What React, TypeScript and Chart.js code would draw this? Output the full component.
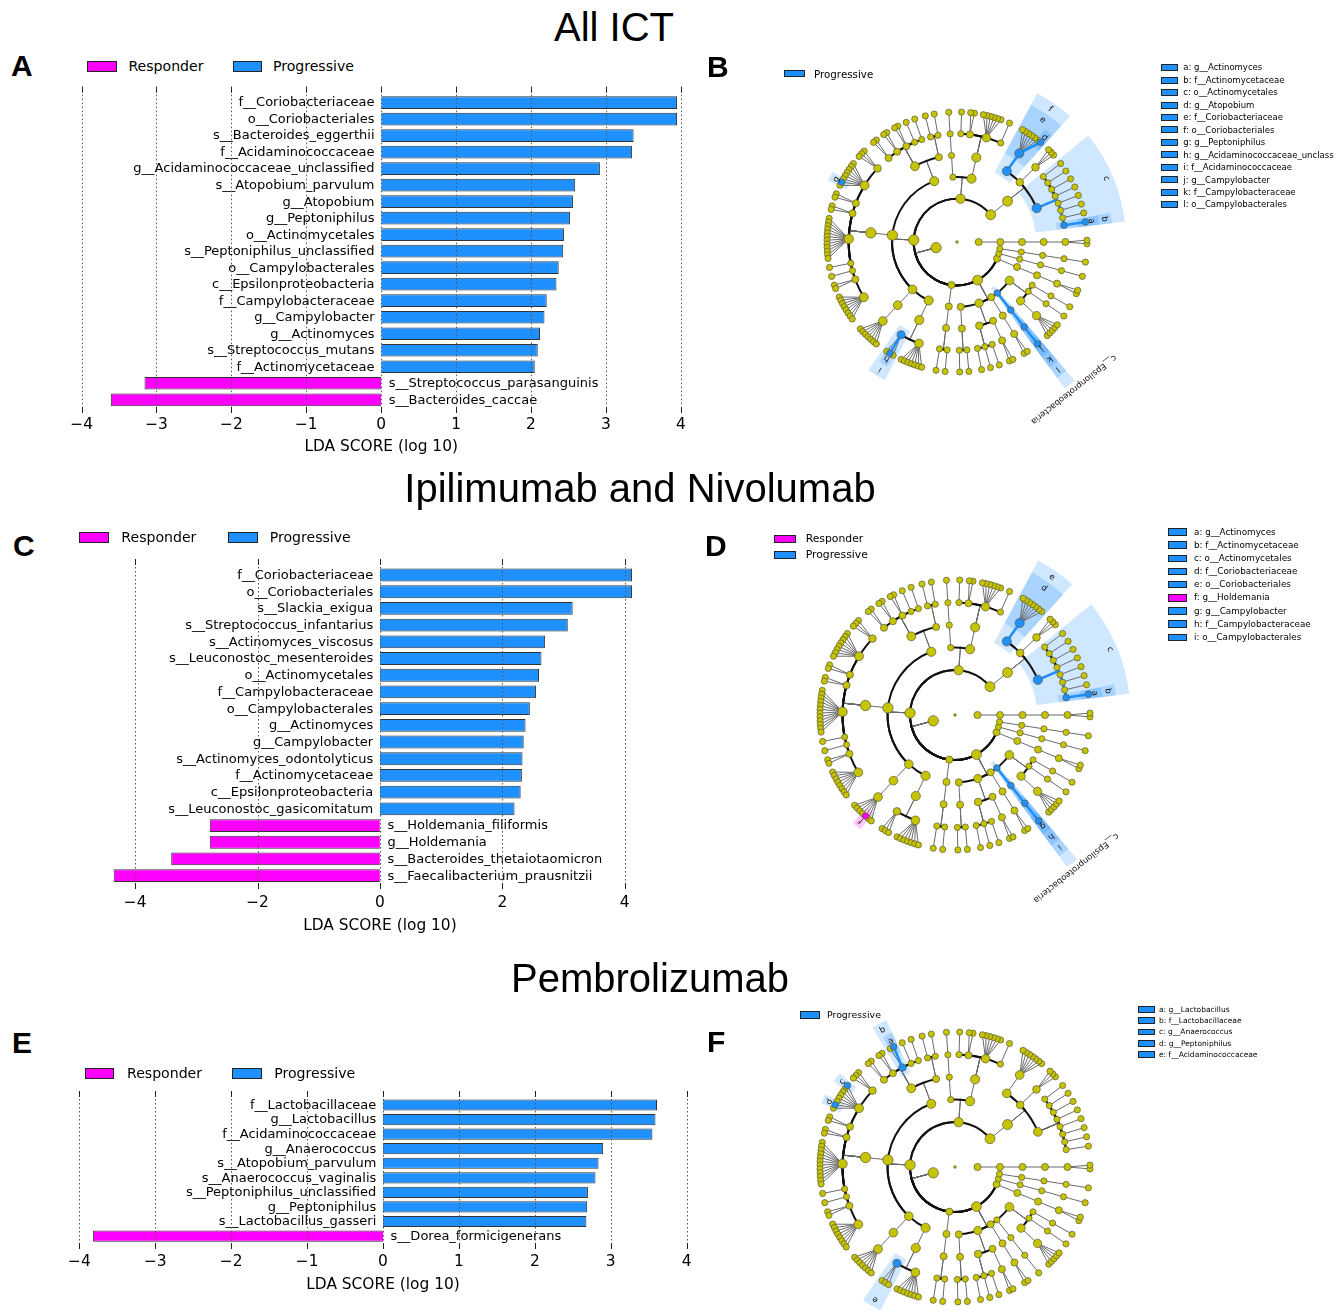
import React, { useEffect, useRef } from 'react';
import { Chart, registerables } from 'chart.js';

Chart.register(...registerables);

const SANS = '"DejaVu Sans", "Noto Sans", sans-serif';
const ARIAL = '"Liberation Sans", Arial, sans-serif';
const PROG = '#1E90FF';
const RESP = '#FF00FF';
const NODE = '#C6C300';
const WEDGE_P = 'rgba(30,144,255,0.21)';
const WEDGE_R = 'rgba(255,0,255,0.21)';

// ---------------- LDA bar data ----------------
const A_LABELS = ['f__Coriobacteriaceae', 'o__Coriobacteriales', 's__Bacteroides_eggerthii', 'f__Acidaminococcaceae', 'g__Acidaminococcaceae_unclassified', 's__Atopobium_parvulum', 'g__Atopobium', 'g__Peptoniphilus', 'o__Actinomycetales', 's__Peptoniphilus_unclassified', 'o__Campylobacterales', 'c__Epsilonproteobacteria', 'f__Campylobacteraceae', 'g__Campylobacter', 'g__Actinomyces', 's__Streptococcus_mutans', 'f__Actinomycetaceae', 's__Streptococcus_parasanguinis', 's__Bacteroides_caccae'];
const A_VALUES = [3.95, 3.95, 3.37, 3.35, 2.92, 2.59, 2.56, 2.52, 2.44, 2.43, 2.37, 2.34, 2.21, 2.18, 2.12, 2.09, 2.05, -3.16, -3.61];

const C_LABELS = ['f__Coriobacteriaceae', 'o__Coriobacteriales', 's__Slackia_exigua', 's__Streptococcus_infantarius', 's__Actinomyces_viscosus', 's__Leuconostoc_mesenteroides', 'o__Actinomycetales', 'f__Campylobacteraceae', 'o__Campylobacterales', 'g__Actinomyces', 'g__Campylobacter', 's__Actinomyces_odontolyticus', 'f__Actinomycetaceae', 'c__Epsilonproteobacteria', 's__Leuconostoc_gasicomitatum', 's__Holdemania_filiformis', 'g__Holdemania', 's__Bacteroides_thetaiotaomicron', 's__Faecalibacterium_prausnitzii'];
const C_VALUES = [4.12, 4.12, 3.15, 3.07, 2.70, 2.64, 2.60, 2.55, 2.45, 2.38, 2.35, 2.33, 2.32, 2.30, 2.20, -2.78, -2.78, -3.41, -4.35];

const E_LABELS = ['f__Lactobacillaceae', 'g__Lactobacillus', 'f__Acidaminococcaceae', 'g__Anaerococcus', 's__Atopobium_parvulum', 's__Anaerococcus_vaginalis', 's__Peptoniphilus_unclassified', 'g__Peptoniphilus', 's__Lactobacillus_gasseri', 's__Dorea_formicigenerans'];
const E_VALUES = [3.61, 3.59, 3.55, 2.90, 2.84, 2.80, 2.70, 2.69, 2.68, -3.82];

const TICKS_1 = [-4, -3, -2, -1, 0, 1, 2, 3, 4];
const TICKS_2 = [-4, -2, 0, 2, 4];

// ---------------- taxonomy shown in the cladograms ----------------
const TAXONOMY = `
Root(
Archaea(Euryarchaeota(Methanobacteria(Methanobacteriales(Methanobacteriaceae(Methanobrevibacter,Methanosphaera))))),
Bacteria(
Actinobacteria(Actinobacteria_c(Actinomycetales(Actinomycetaceae(Actinomyces),Brevibacteriaceae(Brevibacterium),Corynebacteriaceae(Corynebacterium),Dermabacteraceae(Brachybacterium),Microbacteriaceae(Microbacterium),Micrococcaceae(Rothia),Nocardiaceae(Rhodococcus),Propionibacteriaceae(Propionibacterium)),Bifidobacteriales(Bifidobacteriaceae(Bifidobacterium,Gardnerella,Scardovia)),Coriobacteriales(Coriobacteriaceae(Atopobium,Adlercreutzia,Collinsella,Eggerthella,Gordonibacter,Olsenella,Slackia)))),
Bacteroidetes(Bacteroidia(Bacteroidales(Bacteroidaceae(Bacteroides),Porphyromonadaceae(Barnesiella,Butyricimonas,Odoribacter,Parabacteroides,Porphyromonas,Tannerella),Prevotellaceae(Paraprevotella,Prevotella),Rikenellaceae(Alistipes))),Flavobacteriia(Flavobacteriales(Flavobacteriaceae(Capnocytophaga)))),
Firmicutes(
Bacilli(Bacillales(Gemellaceae(Gemella),Staphylococcaceae(Staphylococcus)),Lactobacillales(Carnobacteriaceae(Granulicatella),Enterococcaceae(Enterococcus),Lactobacillaceae(Lactobacillus,Pediococcus),Leuconostocaceae(Leuconostoc,Weissella),Streptococcaceae(Lactococcus,Streptococcus))),
Clostridia(Clostridiales(Clostridiaceae(Clostridium,Sarcina,Clostridiaceae_unclassified),Clostridiales_Family_XI_Incertae_Sedis(Anaerococcus,Finegoldia,Gallicola,Helcococcus,Murdochiella,Parvimonas,Peptoniphilus,Tissierella),Clostridiales_Family_XIII_Incertae_Sedis(Mogibacterium,Eubacterium_XIII),Eubacteriaceae(Eubacterium,Pseudoramibacter),Lachnospiraceae(Anaerostipes,Blautia,Butyrivibrio,Coprococcus,Dorea,Lachnobacterium,Lachnospira,Lachnospiraceae_unclassified,Oribacterium,Roseburia,Ruminococcus_L,Shuttleworthia),Oscillospiraceae(Oscillospira),Peptococcaceae(Peptococcus),Peptostreptococcaceae(Peptostreptococcus,Clostridium_P),Ruminococcaceae(Anaerotruncus,Butyricicoccus,Ethanoligenens,Faecalibacterium,Oscillibacter,Ruminococcus,Subdoligranulum,Ruminococcaceae_unclassified))),
Erysipelotrichia(Erysipelotrichales(Erysipelotrichaceae(Bulleidia,Catenibacterium,Coprobacillus,Eubacterium_E,Holdemania,Solobacterium,Turicibacter))),
Negativicutes(Selenomonadales(Acidaminococcaceae(Acidaminococcus,Acidaminococcaceae_unclassified,Phascolarctobacterium),Veillonellaceae(Dialister,Megamonas,Megasphaera,Mitsuokella,Selenomonas,Veillonella,Veillonellaceae_unclassified)))),
Fusobacteria(Fusobacteriia(Fusobacteriales(Fusobacteriaceae(Fusobacterium),Leptotrichiaceae(Leptotrichia)))),
Proteobacteria(
Alphaproteobacteria(Rhizobiales(Bradyrhizobiaceae(Bradyrhizobium),Methylobacteriaceae(Methylobacterium))),
Betaproteobacteria(Burkholderiales(Alcaligenaceae(Sutterella),Burkholderiaceae(Burkholderia),Oxalobacteraceae(Oxalobacter)),Neisseriales(Neisseriaceae(Eikenella,Neisseria))),
Deltaproteobacteria(Desulfovibrionales(Desulfovibrionaceae(Bilophila,Desulfovibrio))),
Epsilonproteobacteria(Campylobacterales(Campylobacteraceae(Campylobacter))),
Gammaproteobacteria(Enterobacteriales(Enterobacteriaceae(Citrobacter,Enterobacter,Escherichia,Klebsiella,Shigella)),Pasteurellales(Pasteurellaceae(Haemophilus)),Pseudomonadales(Pseudomonadaceae(Pseudomonas)))),
Synergistetes(Synergistia(Synergistales(Synergistaceae(Cloacibacillus,Pyramidobacter)))),
Tenericutes(Mollicutes(Anaeroplasmatales(Anaeroplasmataceae(Anaeroplasma)))),
Verrucomicrobia(Verrucomicrobiae(Verrucomicrobiales(Verrucomicrobiaceae(Akkermansia))))))
`;

// highlighted clades (letter = position in list)
const B_CLADES = ['Actinomyces', 'Actinomycetaceae', 'Actinomycetales', 'Atopobium', 'Coriobacteriaceae', 'Coriobacteriales', 'Peptoniphilus', 'Acidaminococcaceae_unclassified', 'Acidaminococcaceae', 'Campylobacter', 'Campylobacteraceae', 'Campylobacterales'];
const B_GROUPS = ['P', 'P', 'P', 'P', 'P', 'P', 'P', 'P', 'P', 'P', 'P', 'P'];
const B_LEGEND = ['a: g__Actinomyces', 'b: f__Actinomycetaceae', 'c: o__Actinomycetales', 'd: g__Atopobium', 'e: f__Coriobacteriaceae', 'f: o__Coriobacteriales', 'g: g__Peptoniphilus', 'h: g__Acidaminococcaceae_unclass', 'i: f__Acidaminococcaceae', 'j: g__Campylobacter', 'k: f__Campylobacteraceae', 'l: o__Campylobacterales'];
const B_NAMED: [string, string, string][] = [['Epsilonproteobacteria', 'c__Epsilonproteobacteria', 'P']];

const D_CLADES = ['Actinomyces', 'Actinomycetaceae', 'Actinomycetales', 'Coriobacteriaceae', 'Coriobacteriales', 'Holdemania', 'Campylobacter', 'Campylobacteraceae', 'Campylobacterales'];
const D_GROUPS = ['P', 'P', 'P', 'P', 'P', 'R', 'P', 'P', 'P'];
const D_LEGEND = ['a: g__Actinomyces', 'b: f__Actinomycetaceae', 'c: o__Actinomycetales', 'd: f__Coriobacteriaceae', 'e: o__Coriobacteriales', 'f: g__Holdemania', 'g: g__Campylobacter', 'h: f__Campylobacteraceae', 'i: o__Campylobacterales'];
const D_NAMED: [string, string, string][] = [['Epsilonproteobacteria', 'c__Epsilonproteobacteria', 'P']];

const F_CLADES = ['Lactobacillus', 'Lactobacillaceae', 'Anaerococcus', 'Peptoniphilus', 'Acidaminococcaceae'];
const F_GROUPS = ['P', 'P', 'P', 'P', 'P'];
const F_LEGEND = ['a: g__Lactobacillus', 'b: f__Lactobacillaceae', 'c: g__Anaerococcus', 'd: g__Peptoniphilus', 'e: f__Acidaminococcaceae'];
const F_NAMED: [string, string, string][] = [];

// ---------------- helpers ----------------
const fmtTick = (v: number) => (v < 0 ? '\u2212' + Math.abs(v) : String(v));
const rad = (d: number) => (d * Math.PI) / 180;

type TNode = { name: string; children: TNode[]; parent: TNode | null; depth: number; lo: number; hi: number; theta: number; r: number; leaves: number };

function parseTree(src: string): TNode {
  const s = src.replace(/\s+/g, '');
  let i = 0;
  const read = (): TNode => {
    let name = '';
    while (i < s.length && s[i] !== '(' && s[i] !== ')' && s[i] !== ',') name += s[i++];
    const node: TNode = { name, children: [], parent: null, depth: 0, lo: 0, hi: 0, theta: 0, r: 0, leaves: 1 };
    if (s[i] === '(') {
      i++;
      for (;;) {
        const c = read();
        c.parent = node;
        node.children.push(c);
        if (s[i] === ',') { i++; continue; }
        i++;
        break;
      }
    }
    return node;
  };
  return read();
}

// extra angular separation between consecutive leaves, by depth of their common ancestor
const CLADE_GAP = [4, 3, 2.5, 2, 1.5, 0, 0];

function layoutTree(root: TNode, r6: number) {
  const nodes: TNode[] = [];
  const leaves: TNode[] = [];
  const walk = (n: TNode, d: number) => {
    n.depth = d;
    nodes.push(n);
    if (!n.children.length) leaves.push(n);
    n.children.forEach((c) => walk(c, d + 1));
  };
  walk(root, 0);
  const lcaDepth = (a: TNode, b: TNode) => {
    const anc = new Set<TNode>();
    for (let p: TNode | null = a; p; p = p.parent) anc.add(p);
    for (let q: TNode | null = b; q; q = q.parent) if (anc.has(q)) return q.depth;
    return 0;
  };
  let pos = 0;
  leaves.forEach((lf, k) => {
    if (k > 0) pos += 1 + CLADE_GAP[lcaDepth(leaves[k - 1], lf)];
    lf.lo = lf.hi = pos;
  });
  const total = pos + 1 + CLADE_GAP[0];
  const unitDeg = 360 / total;
  const first = root.children[0];
  const agg = (n: TNode) => {
    if (n.children.length) {
      n.children.forEach(agg);
      n.lo = n.children[0].lo;
      n.hi = n.children[n.children.length - 1].hi;
      n.leaves = n.children.reduce((s, c) => s + c.leaves, 0);
    }
  };
  agg(root);
  const offset = -((first.lo + first.hi) / 2) * unitDeg;
  const step = r6 / 6;
  const ang = (n: TNode): number => {
    if (!n.children.length) return offset + n.lo * unitDeg;
    const a = n.children.map(ang);
    return (a[0] + a[a.length - 1]) / 2;
  };
  const setAng = (n: TNode) => { n.theta = ang(n); n.r = n.depth * step; n.children.forEach(setAng); };
  setAng(root);
  return { nodes, unitDeg, offset, step };
}

// ---------------- bar chart panel ----------------
type BarCfg = {
  labels: string[]; values: number[]; ticks: number[]; xLim: number;
  canvas: { left: number; top: number; width: number; height: number };
  area: { x0: number; x1: number; y0: number; y1: number };
  padStart: number; padEnd: number; tickPad: number; titlePad: number;
};

function BarPanel({ cfg }: { cfg: BarCfg }) {
  const ref = useRef<HTMLCanvasElement>(null);
  useEffect(() => {
    const { labels, values, ticks, xLim, canvas, area } = cfg;
    const n = labels.length;
    const pts = values.map((v, i) => ({ x: v, y: i }));
    const decor = {
      id: 'ldaDecor',
      afterDatasetsDraw(chart: any) {
        const { ctx } = chart;
        const x = chart.scales.x;
        const y = chart.scales.y;
        const x0 = x.getPixelForValue(0);
        ctx.save();
        ctx.font = `13px ${SANS}`;
        ctx.fillStyle = '#000';
        ctx.textBaseline = 'middle';
        labels.forEach((t, i) => {
          const py = y.getPixelForValue(i) + 0.5;
          if (values[i] >= 0) { ctx.textAlign = 'right'; ctx.fillText(t, x0 - 6.7, py); }
          else { ctx.textAlign = 'left'; ctx.fillText(t, x0 + 7.6, py); }
        });
        ctx.restore();
      },
      afterDraw(chart: any) {
        const { ctx, chartArea } = chart;
        const x = chart.scales.x;
        ctx.save();
        ctx.lineWidth = 1;
        ticks.forEach((v) => {
          const px = Math.round(x.getPixelForValue(v)) + 0.5;
          ctx.strokeStyle = '#555';
          ctx.setLineDash([1.5, 2.5]);
          ctx.beginPath(); ctx.moveTo(px, chartArea.top); ctx.lineTo(px, chartArea.bottom); ctx.stroke();
          ctx.setLineDash([]);
          ctx.strokeStyle = '#222';
          ctx.beginPath();
          ctx.moveTo(px, chartArea.top); ctx.lineTo(px, chartArea.top + 6);
          ctx.moveTo(px, chartArea.bottom); ctx.lineTo(px, chartArea.bottom - 6);
          ctx.stroke();
        });
        ctx.restore();
      },
    };
    const chart = new Chart(ref.current as HTMLCanvasElement, {
      type: 'bar',
      data: {
        datasets: [
          { label: 'Responder', data: pts.filter((p) => p.x < 0), backgroundColor: RESP, borderColor: '#333', borderWidth: 1, grouped: false, categoryPercentage: 1, barPercentage: 0.8 } as any,
          { label: 'Progressive', data: pts.filter((p) => p.x >= 0), backgroundColor: PROG, borderColor: '#333', borderWidth: 1, grouped: false, categoryPercentage: 1, barPercentage: 0.8 } as any,
        ],
      },
      options: {
        indexAxis: 'y',
        animation: false,
        responsive: false,
        events: [],
        layout: {
          autoPadding: false,
          padding: { left: area.x0 - canvas.left, right: canvas.left + canvas.width - area.x1, top: area.y0 - canvas.top, bottom: 0 },
        },
        plugins: { legend: { display: false }, tooltip: { enabled: false } },
        scales: {
          y: { type: 'linear', display: false, reverse: true, offset: false, min: -cfg.padStart, max: n - 1 + cfg.padEnd },
          x: {
            type: 'linear', position: 'bottom', min: -xLim, max: xLim, offset: false,
            afterBuildTicks: (s: any) => { s.ticks = ticks.map((v) => ({ value: v })); },
            afterFit: (s: any) => { s.height = canvas.top + canvas.height - area.y1; s.paddingLeft = 0; s.paddingRight = 0; },
            grid: { display: false, drawTicks: false },
            border: { display: false },
            ticks: { callback: (v: any) => fmtTick(Number(v)), color: '#000', font: { family: SANS, size: 15.4 }, padding: cfg.tickPad, maxRotation: 0, autoSkip: false },
            title: { display: true, text: 'LDA SCORE (log 10)', color: '#000', font: { family: SANS, size: 15.4 }, padding: { top: 0, bottom: cfg.titlePad } },
          },
        },
      } as any,
      plugins: [decor],
    });
    return () => chart.destroy();
  }, [cfg]);
  const c = cfg.canvas;
  return <canvas ref={ref} width={c.width} height={c.height} style={{ position: 'absolute', left: c.left, top: c.top, width: c.width, height: c.height }} />;
}

// ---------------- cladogram panel ----------------
type CladoCfg = { cx: number; cy: number; r6: number; half: number; clades: string[]; groups: string[]; named: [string, string, string][] };

function Cladogram({ cfg }: { cfg: CladoCfg }) {
  const ref = useRef<HTMLCanvasElement>(null);
  useEffect(() => {
    const root = parseTree(TAXONOMY);
    const { nodes, unitDeg, offset, step } = layoutTree(root, cfg.r6);
    const hl = new Map<string, { text: string; group: string; full: boolean }>();
    cfg.clades.forEach((nm, i) => hl.set(nm, { text: String.fromCharCode(97 + i), group: cfg.groups[i], full: false }));
    cfg.named.forEach(([nm, text, g]) => hl.set(nm, { text, group: g, full: true }));
    const ordered = [...nodes].sort((a, b) => (hl.has(a.name) ? 1 : 0) - (hl.has(b.name) ? 1 : 0));
    const data = ordered.map((n) => ({ x: n.r * Math.cos(rad(n.theta)), y: n.r * Math.sin(rad(n.theta)) }));
    const radii = ordered.map((n) => (n.depth === 0 ? 1.3 : Math.min(5.2, 3.1 + 0.45 * Math.log2(n.leaves)) + (hl.has(n.name) ? 0.2 : 0)));
    const fills = ordered.map((n) => { const h = hl.get(n.name); return h ? (h.group === 'R' ? RESP : PROG) : NODE; });
    const hlNodes = nodes.filter((n) => hl.has(n.name)).sort((a, b) => a.depth - b.depth);
    const PAD = 1.2;
    const wedgeOuter = (n: TNode) => cfg.r6 + (7 - n.depth) * 0.6 * step;

    const decor = {
      id: 'cladoDecor',
      beforeDatasetsDraw(chart: any) {
        const { ctx } = chart;
        const sx = chart.scales.x;
        const sy = chart.scales.y;
        const cx = sx.getPixelForValue(0);
        const cy = sy.getPixelForValue(0);
        const k = sx.getPixelForValue(1) - cx;
        const P = (r: number, deg: number) => [cx + r * k * Math.cos(rad(deg)), cy - r * k * Math.sin(rad(deg))];
        ctx.save();
        // shaded clades
        hlNodes.forEach((n) => {
          const h = hl.get(n.name)!;
          const a0 = rad(offset + (n.lo - PAD) * unitDeg);
          const a1 = rad(offset + (n.hi + PAD) * unitDeg);
          const rin = Math.max(0, n.r - 0.35 * step) * k;
          const rout = wedgeOuter(n) * k;
          ctx.beginPath();
          ctx.arc(cx, cy, rout, -a0, -a1, true);
          ctx.arc(cx, cy, rin, -a1, -a0, false);
          ctx.closePath();
          ctx.fillStyle = h.group === 'R' ? WEDGE_R : WEDGE_P;
          ctx.fill();
        });
        // branches
        const drawEdge = (n: TNode, hiPass: boolean) => {
          const p = n.parent;
          if (!p || p.depth === 0) return;
          const hn = hl.get(n.name);
          const hp = hl.get(p.name);
          const both = !!(hn && hp && hn.group === hp.group);
          if (both !== hiPass) return;
          const col = both ? (hn!.group === 'R' ? RESP : PROG) : null;
          if (n.children.length) {
            const [x1, y1] = P(p.r, p.theta);
            const [x2, y2] = P(n.r, p.theta);
            ctx.strokeStyle = col || '#6a6a6a';
            ctx.lineWidth = col ? 2.6 : 1;
            ctx.beginPath(); ctx.moveTo(x1, y1); ctx.lineTo(x2, y2); ctx.stroke();
            if (Math.abs(n.theta - p.theta) > 1e-6) {
              ctx.strokeStyle = col || '#111';
              ctx.lineWidth = col ? 2.6 : 2;
              ctx.beginPath();
              ctx.arc(cx, cy, n.r * k, -rad(p.theta), -rad(n.theta), n.theta > p.theta);
              ctx.stroke();
            }
          } else {
            const [x1, y1] = P(p.r, p.theta);
            const [x2, y2] = P(n.r, n.theta);
            ctx.strokeStyle = col || '#6a6a6a';
            ctx.lineWidth = col ? 2.6 : 1;
            ctx.beginPath(); ctx.moveTo(x1, y1); ctx.lineTo(x2, y2); ctx.stroke();
          }
        };
        ctx.lineCap = 'round';
        nodes.forEach((n) => drawEdge(n, false));
        nodes.forEach((n) => drawEdge(n, true));
        ctx.restore();
      },
      afterDatasetsDraw(chart: any) {
        const { ctx } = chart;
        const sx = chart.scales.x;
        const sy = chart.scales.y;
        const cx = sx.getPixelForValue(0);
        const cy = sy.getPixelForValue(0);
        const k = sx.getPixelForValue(1) - cx;
        ctx.save();
        ctx.fillStyle = '#111';
        ctx.textAlign = 'center';
        ctx.textBaseline = 'middle';
        hlNodes.forEach((n) => {
          const h = hl.get(n.name)!;
          const mid = offset + ((n.lo + n.hi) / 2) * unitDeg;
          const r = h.full ? wedgeOuter(n) + 6 : wedgeOuter(n) - 0.32 * step;
          const px = cx + r * k * Math.cos(rad(mid));
          const py = cy - r * k * Math.sin(rad(mid));
          ctx.save();
          ctx.translate(px, py);
          ctx.rotate(-rad(mid) + Math.PI / 2);
          ctx.font = `8.5px ${SANS}`;
          ctx.fillText(h.text, 0, 0);
          ctx.restore();
        });
        ctx.restore();
      },
    };

    const chart = new Chart(ref.current as HTMLCanvasElement, {
      type: 'scatter',
      data: {
        datasets: [{
          data,
          pointRadius: radii,
          pointBackgroundColor: fills,
          pointBorderColor: '#5a5a3a',
          pointBorderWidth: 0.7,
          showLine: false,
          clip: false,
        } as any],
      },
      options: {
        animation: false,
        responsive: false,
        events: [],
        layout: { autoPadding: false, padding: 0 },
        plugins: { legend: { display: false }, tooltip: { enabled: false } },
        scales: {
          x: { type: 'linear', display: false, min: -cfg.half, max: cfg.half },
          y: { type: 'linear', display: false, min: -cfg.half, max: cfg.half },
        },
      } as any,
      plugins: [decor],
    });
    return () => chart.destroy();
  }, [cfg]);
  const size = cfg.half * 2;
  return <canvas ref={ref} width={size} height={size} style={{ position: 'absolute', left: cfg.cx - cfg.half, top: cfg.cy - cfg.half, width: size, height: size }} />;
}

// ---------------- HTML text helpers ----------------
function Txt({ x, y, text, size, family = SANS, weight = 'normal', align = 'left' }: { x: number; y: number; text: string; size: number; family?: string; weight?: string; align?: string }) {
  const style: React.CSSProperties = { position: 'absolute', left: x, top: y - 0.5 * size, fontSize: size, lineHeight: 1, fontFamily: family, fontWeight: weight as any, whiteSpace: 'nowrap', color: '#000' };
  if (align === 'center') style.transform = 'translateX(-50%)';
  return <div style={style}>{text}</div>;
}

function Swatch({ x, y, w, h, color }: { x: number; y: number; w: number; h: number; color: string }) {
  return <div style={{ position: 'absolute', left: x, top: y - h / 2, width: w, height: h, background: color, border: '1px solid #222', boxSizing: 'border-box' }} />;
}

function KeyList({ items, groups, x, y0, dy, w, h, tx, size }: { items: string[]; groups: string[]; x: number; y0: number; dy: number; w: number; h: number; tx: number; size: number }) {
  return (
    <>
      {items.map((t, i) => (
        <React.Fragment key={t}>
          <Swatch x={x} y={y0 + i * dy} w={w} h={h} color={groups[i] === 'R' ? RESP : PROG} />
          <Txt x={tx} y={y0 + i * dy} text={t} size={size} />
        </React.Fragment>
      ))}
    </>
  );
}

// ---------------- panel configs ----------------
const CFG_A: BarCfg = {
  labels: A_LABELS, values: A_VALUES, ticks: TICKS_1, xLim: 4,
  canvas: { left: 40, top: 76, width: 680, height: 384 },
  area: { x0: 81.6, x1: 680.8, y0: 86.7, y1: 413 },
  padStart: 0.96, padEnd: 0.8, tickPad: 2.7, titlePad: 4,
};
const CFG_C: BarCfg = {
  labels: C_LABELS, values: C_VALUES, ticks: TICKS_2, xLim: 4.5,
  canvas: { left: 40, top: 540, width: 680, height: 400 },
  area: { x0: 104.5, x1: 655.3, y0: 559, y1: 889 },
  padStart: 0.96, padEnd: 0.8, tickPad: 4.7, titlePad: 4.7,
};
const CFG_E: BarCfg = {
  labels: E_LABELS, values: E_VALUES, ticks: TICKS_1, xLim: 4,
  canvas: { left: 40, top: 1080, width: 680, height: 218 },
  area: { x0: 79.4, x1: 686.6, y0: 1091, y1: 1249 },
  padStart: 0.96, padEnd: 0.89, tickPad: 3.7, titlePad: 3.7,
};
const CFG_B: CladoCfg = { cx: 957, cy: 242, r6: 130, half: 230, clades: B_CLADES, groups: B_GROUPS, named: B_NAMED };
const CFG_D: CladoCfg = { cx: 955, cy: 715, r6: 135, half: 230, clades: D_CLADES, groups: D_GROUPS, named: D_NAMED };
const CFG_F: CladoCfg = { cx: 955, cy: 1167, r6: 135, half: 230, clades: F_CLADES, groups: F_GROUPS, named: F_NAMED };

export default function App() {
  return (
    <div style={{ position: 'absolute', left: 0, top: 0, width: 1342, height: 1316, overflow: 'hidden', background: '#fff' }}>
      <BarPanel cfg={CFG_A} />
      <BarPanel cfg={CFG_C} />
      <BarPanel cfg={CFG_E} />
      <Cladogram cfg={CFG_B} />
      <Cladogram cfg={CFG_D} />
      <Cladogram cfg={CFG_F} />

      <Txt x={614} y={27} text="All ICT" size={40} family={ARIAL} align="center" />
      <Txt x={640} y={488} text="Ipilimumab and Nivolumab" size={40} family={ARIAL} align="center" />
      <Txt x={650} y={978} text="Pembrolizumab" size={40} family={ARIAL} align="center" />

      <Txt x={11} y={66} text="A" size={30} family={ARIAL} weight="bold" />
      <Txt x={707} y={67} text="B" size={30} family={ARIAL} weight="bold" />
      <Txt x={13} y={546} text="C" size={30} family={ARIAL} weight="bold" />
      <Txt x={705} y={546} text="D" size={30} family={ARIAL} weight="bold" />
      <Txt x={12} y={1043} text="E" size={30} family={ARIAL} weight="bold" />
      <Txt x={707} y={1042} text="F" size={30} family={ARIAL} weight="bold" />

      {/* bar chart legends */}
      <Swatch x={87} y={66} w={30} h={11} color={RESP} />
      <Txt x={128.4} y={66} text="Responder" size={14.1} />
      <Swatch x={232.7} y={66} w={29.5} h={11} color={PROG} />
      <Txt x={272.9} y={66} text="Progressive" size={14.1} />

      <Swatch x={79.4} y={537} w={30} h={11} color={RESP} />
      <Txt x={121.3} y={537} text="Responder" size={14.1} />
      <Swatch x={228.3} y={537} w={29.5} h={11} color={PROG} />
      <Txt x={269.7} y={537} text="Progressive" size={14.1} />

      <Swatch x={84.7} y={1073} w={29} h={11} color={RESP} />
      <Txt x={127} y={1073} text="Responder" size={14.1} />
      <Swatch x={231.8} y={1073} w={30.4} h={11} color={PROG} />
      <Txt x={274.2} y={1073} text="Progressive" size={14.1} />

      {/* cladogram legends */}
      <Swatch x={784} y={73.7} w={20.5} h={7.5} color={PROG} />
      <Txt x={814} y={73.7} text="Progressive" size={10.3} />
      <KeyList items={B_LEGEND} groups={B_GROUPS} x={1161} y0={67.7} dy={12.45} w={17} h={7} tx={1183.3} size={8.5} />

      <Swatch x={774} y={539} w={22} h={8.5} color={RESP} />
      <Txt x={805.7} y={539} text="Responder" size={10.8} />
      <Swatch x={774} y={555} w={22} h={8.5} color={PROG} />
      <Txt x={805.7} y={555} text="Progressive" size={10.8} />
      <KeyList items={D_LEGEND} groups={D_GROUPS} x={1168} y0={532} dy={13.16} w={18.5} h={7.5} tx={1194} size={8.8} />

      <Swatch x={800} y={1015} w={20} h={7.5} color={PROG} />
      <Txt x={827} y={1015} text="Progressive" size={9.4} />
      <KeyList items={F_LEGEND} groups={F_GROUPS} x={1138} y0={1009.3} dy={11.33} w={16.5} h={6.5} tx={1159} size={7.5} />
    </div>
  );
}
